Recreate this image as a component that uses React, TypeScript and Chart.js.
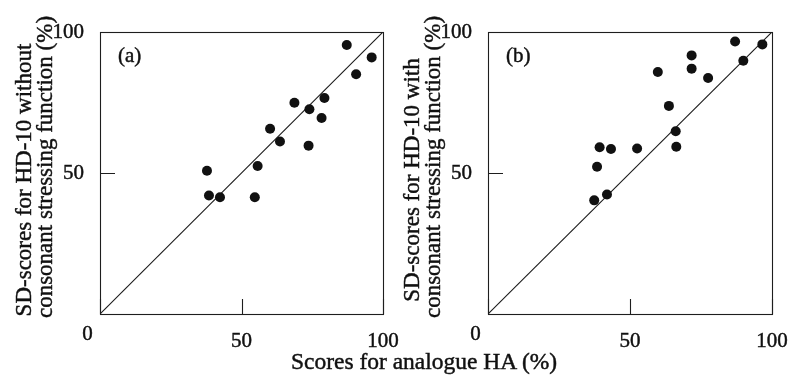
import React, { useEffect, useRef } from 'react';
import { Chart, registerables } from 'chart.js';

Chart.register(...registerables);

// ---- data ----
const analogueA = [87.2, 96.0, 90.5, 68.7, 79.3, 74.0, 78.3, 60.1, 63.6, 73.7, 55.7, 37.8, 38.5, 42.4, 54.7];
const withoutA = [95.4, 91.0, 85.0, 74.9, 76.6, 72.6, 69.5, 65.7, 61.2, 59.7, 52.5, 50.8, 42.0, 41.4, 41.4];

const analogueB = [87.0, 96.6, 89.9, 71.7, 71.7, 59.8, 77.5, 63.7, 66.1, 66.3, 39.3, 43.3, 52.5, 38.4, 41.9, 37.4];
const withB = [96.6, 95.6, 89.8, 91.7, 87.0, 85.8, 83.7, 73.8, 64.8, 59.3, 59.1, 58.5, 58.7, 52.2, 42.4, 40.3];

const axisTicks = [0, 50, 100];
const identityLine = [0, 100];

const yTitleA = ['SD-scores for HD-10 without', 'consonant stressing function (%)'];
const yTitleB = ['SD-scores for HD-10 with', 'consonant stressing function (%)'];
const xTitle = 'Scores for analogue HA (%)';
const panelLabelA = '(a)';
const panelLabelB = '(b)';

const INK = '#111';
const FONT = '"Liberation Serif", "Times New Roman", serif';
const STROKE = 0.45;

function makeDecor(lines: string[], panel: string) {
  return {
    id: 'decor',
    afterDraw(chart: any) {
      const { ctx, chartArea } = chart;
      const { left, right, top, bottom } = chartArea;
      const xs = chart.scales.x;
      const ys = chart.scales.y;
      const al = (v: number) => Math.round(v) + 0.5;
      ctx.save();
      ctx.strokeStyle = '#1e1e1e';
      ctx.lineWidth = 1.1;
      ctx.strokeRect(al(left), al(top), Math.round(right) - Math.round(left), Math.round(bottom) - Math.round(top));
      ctx.beginPath();
      axisTicks.forEach((v) => {
        const px = al(xs.getPixelForValue(v));
        ctx.moveTo(px, bottom);
        ctx.lineTo(px, bottom - 15);
        const py = al(ys.getPixelForValue(v));
        ctx.moveTo(left, py);
        ctx.lineTo(left + 15, py);
      });
      ctx.stroke();

      const txt = (t: string, x: number, y: number) => {
        ctx.fillText(t, x, y);
        ctx.strokeText(t, x, y);
      };
      ctx.fillStyle = INK;
      ctx.strokeStyle = INK;
      ctx.lineWidth = STROKE;
      ctx.font = `21px ${FONT}`;
      ctx.textAlign = 'center';
      ctx.textBaseline = 'alphabetic';
      txt('0', left - 12.5, 340);

      ctx.textAlign = 'left';
      ctx.textBaseline = 'middle';
      txt(panel, left + 18, top + 24);

      ctx.font = `23px ${FONT}`;
      ctx.textAlign = 'center';
      ctx.textBaseline = 'alphabetic';
      const spec: [string, number, number][] = [
        [lines[0], -69, 180],
        [lines[1], -48, 167],
      ];
      spec.forEach(([t, dx, cy]) => {
        ctx.save();
        ctx.translate(left + dx, cy);
        ctx.rotate(-Math.PI / 2);
        txt(t, 0, 0);
        ctx.restore();
      });
      ctx.restore();
    },
  };
}

function makeConfig(xv: number[], yv: number[], lines: string[], panel: string, yWidth: number, padRight: number): any {
  const tickStyle = {
    autoSkip: false,
    maxRotation: 0,
    color: INK,
    textStrokeColor: INK,
    textStrokeWidth: STROKE,
    font: { family: FONT, size: 21 },
    callback: (v: any) => (v === 0 ? '' : String(v)),
  };
  return {
    type: 'scatter',
    data: {
      datasets: [
        {
          data: xv.map((x, i) => ({ x, y: yv[i] })),
          pointRadius: 5,
          pointHoverRadius: 5,
          backgroundColor: '#111',
          borderWidth: 0,
        },
        {
          type: 'line',
          data: identityLine.map((v) => ({ x: v, y: v })),
          borderColor: '#1a1a1a',
          borderWidth: 1.1,
          pointRadius: 0,
          showLine: true,
          fill: false,
        },
      ],
    },
    options: {
      responsive: false,
      animation: false,
      layout: { padding: { left: 0, top: 32, right: padRight, bottom: 0 } },
      plugins: { legend: { display: false }, tooltip: { enabled: false } },
      scales: {
        x: {
          type: 'linear',
          min: 0,
          max: 100,
          grid: { display: false },
          border: { display: false },
          afterBuildTicks: (s: any) => {
            s.ticks = axisTicks.map((v) => ({ value: v }));
          },
          afterFit: (s: any) => {
            s.height = 64;
            s.paddingLeft = 0;
            s.paddingRight = 0;
          },
          ticks: { ...tickStyle, padding: 7 },
        },
        y: {
          type: 'linear',
          min: 0,
          max: 100,
          grid: { display: false },
          border: { display: false },
          afterBuildTicks: (s: any) => {
            s.ticks = axisTicks.map((v) => ({ value: v }));
          },
          afterFit: (s: any) => {
            s.width = yWidth;
            s.paddingTop = 0;
            s.paddingBottom = 0;
          },
          ticks: { ...tickStyle, padding: 8 },
        },
      },
    },
    plugins: [makeDecor(lines, panel)],
  };
}

export default function App() {
  const refA = useRef<HTMLCanvasElement>(null);
  const refB = useRef<HTMLCanvasElement>(null);

  useEffect(() => {
    const a = new Chart(refA.current as HTMLCanvasElement, makeConfig(analogueA, withoutA, yTitleA, panelLabelA, 100, 27));
    const b = new Chart(refB.current as HTMLCanvasElement, makeConfig(analogueB, withB, yTitleB, panelLabelB, 94, 16));
    return () => {
      a.destroy();
      b.destroy();
    };
  }, []);

  return (
    <div style={{ position: 'fixed', left: 0, top: 0, width: 788, height: 378, overflow: 'hidden', background: '#fff' }}>
      <canvas ref={refA} width={410} height={378} style={{ position: 'absolute', left: 0, top: 0, display: 'block' }} />
      <canvas ref={refB} width={394} height={378} style={{ position: 'absolute', left: 394, top: 0, display: 'block' }} />
      <div
        style={{
          position: 'absolute',
          left: 224,
          width: 400,
          top: 349,
          textAlign: 'center',
          fontFamily: FONT,
          fontSize: '23.5px',
          lineHeight: '24px',
          color: INK,
          whiteSpace: 'nowrap',
          WebkitTextStroke: `${STROKE}px ${INK}`,
        }}
      >
        {xTitle}
      </div>
    </div>
  );
}
